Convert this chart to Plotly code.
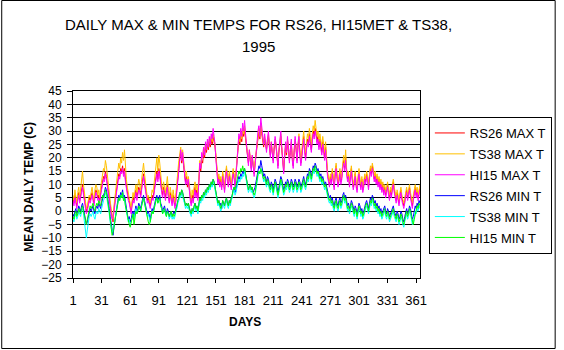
import plotly.graph_objects as go

days = list(range(1, 366))
x_tick_vals = list(range(1, 366, 30))
x_tick_text = [str(v) for v in x_tick_vals]
y_tick_vals = list(range(-25, 46, 5))

series_names = ["RS26 MAX T", "TS38 MAX T", "HI15 MAX T", "RS26 MIN T", "TS38 MIN T", "HI15 MIN T"]
series_colors = ["#FF0000", "#FFC000", "#FF00FF", "#0000FF", "#00FFFF", "#00FF00"]

rs26_max = [
    5, 3, 6, 4, 2, 5, 7, 4, 6, 9,
    10, 7, 4, 2, 0, 1, 3, 5, 4, 6,
    7, 5, 3, 6, 8, 7, 5, 6, 4, 7,
    9, 11, 13, 12, 15, 13, 10, 8, 5, 3,
    0, -2, -4, 1, 4, 7, 10, 12, 14, 13,
    16, 15, 17, 14, 16, 12, 9, 7, 5, 4,
    2, 0, 3, 5, 4, 6, 8, 5, 7, 9,
    8, 6, 9, 12, 14, 11, 8, 6, 4, 5,
    3, 2, 4, 6, 5, 8, 10, 13, 15, 12,
    16, 14, 10, 8, 6, 9, 7, 5, 8, 10,
    6, 4, 7, 5, 3, 6, 4, 2, 5, 8,
    12, 16, 20, 22, 18, 21, 17, 14, 11, 13,
    9, 11, 8, 5, 3, 6, 4, 7, 9, 6,
    8, 5, 12, 17, 15, 19, 18, 22, 20, 24,
    22, 25, 23, 26, 24, 27, 25, 28, 26, 24,
    20, 15, 11, 13, 10, 12, 9, 14, 11, 8,
    13, 16, 12, 10, 14, 11, 9, 12, 15, 13,
    10, 14, 19, 24, 27, 25, 29, 26, 30, 28,
    31, 27, 24, 21, 18, 22, 19, 16, 20, 17,
    14, 18, 21, 25, 28, 30, 27, 32, 29, 26,
    24, 27, 25, 23, 26, 28, 24, 21, 25, 22,
    19, 23, 26, 24, 20, 17, 22, 25, 28, 23,
    18, 15, 20, 24, 21, 26, 23, 19, 22, 25,
    20, 17, 22, 26, 23, 19, 24, 27, 22, 18,
    21, 25, 28, 23, 20, 24, 27, 25, 29, 26,
    23, 27, 30, 28, 31, 29, 26, 28, 24, 27,
    25, 22, 26, 23, 20, 24, 18, 14, 12, 10,
    13, 11, 15, 12, 9, 14, 17, 13, 10, 12,
    15, 11, 13, 17, 19, 16, 20, 15, 12, 14,
    10, 13, 16, 12, 9, 11, 14, 10, 8, 12,
    15, 11, 9, 12, 8, 10, 13, 11, 14, 12,
    9, 13, 16, 14, 17, 15, 12, 14, 11, 13,
    10, 12, 9, 11, 8, 10, 7, 9, 6, 8,
    10, 7, 5, 8, 6, 9, 11, 8, 6, 4,
    7, 5, 3, 6, 8, 5, 3, 2, 4, 6,
    8, 5, 7, 9, 6, 4, 2, 5, 7, 9,
    6, 8, 5, 7, 9,
]

ts38_max = [
    6, 4, 8, 5, 3, 7, 9, 5, 8, 13,
    15, 10, 6, 3, 1, 2, 4, 6, 5, 8,
    9, 6, 4, 8, 10, 9, 6, 8, 5, 9,
    12, 14, 16, 15, 19, 17, 13, 10, 6, 4,
    1, -1, -3, 2, 6, 9, 13, 15, 18, 16,
    20, 18, 22, 19, 23, 16, 12, 9, 6, 5,
    3, 1, 4, 7, 5, 8, 10, 7, 9, 12,
    10, 8, 12, 15, 18, 14, 10, 7, 5, 6,
    4, 3, 5, 8, 7, 10, 13, 16, 20, 15,
    21, 18, 13, 10, 8, 11, 9, 7, 10, 13,
    8, 5, 9, 7, 4, 8, 6, 3, 7, 10,
    15, 19, 23, 24, 20, 23, 19, 16, 13, 15,
    11, 13, 10, 7, 4, 8, 6, 9, 11, 8,
    10, 7, 14, 19, 17, 21, 20, 24, 22, 25,
    23, 26, 24, 27, 25, 28, 26, 29, 27, 25,
    21, 16, 12, 14, 11, 13, 10, 15, 12, 9,
    14, 17, 13, 11, 15, 12, 10, 13, 16, 14,
    11, 15, 20, 25, 28, 26, 30, 27, 31, 29,
    32, 28, 25, 22, 19, 23, 20, 17, 21, 18,
    15, 19, 22, 26, 29, 31, 28, 33, 30, 27,
    25, 28, 26, 24, 27, 29, 25, 22, 26, 23,
    20, 24, 27, 25, 21, 18, 23, 26, 29, 24,
    19, 16, 21, 25, 22, 27, 24, 20, 23, 26,
    21, 18, 23, 27, 24, 20, 25, 29, 23, 19,
    23, 27, 30, 25, 22, 26, 29, 27, 31, 28,
    25, 29, 32, 30, 34, 31, 28, 30, 26, 29,
    27, 24, 28, 25, 22, 26, 20, 15, 13, 11,
    14, 12, 16, 13, 10, 15, 18, 14, 11, 13,
    16, 12, 14, 18, 21, 17, 23, 16, 13, 15,
    11, 14, 17, 13, 10, 12, 15, 11, 9, 13,
    16, 12, 10, 13, 9, 11, 14, 12, 15, 13,
    10, 14, 17, 15, 18, 16, 13, 15, 12, 14,
    11, 13, 10, 12, 9, 11, 8, 10, 7, 9,
    11, 8, 6, 9, 7, 10, 12, 9, 7, 5,
    8, 6, 4, 7, 9, 6, 4, 3, 5, 7,
    9, 6, 8, 10, 7, 5, 3, 6, 8, 10,
    7, 9, 6, 8, 10,
]

hi15_max = [
    4, 2, 5, 3, 1, 4, 6, 3, 5, 8,
    9, 6, 3, 1, -1, 0, 2, 4, 3, 5,
    6, 4, 2, 5, 7, 6, 4, 5, 3, 6,
    8, 10, 12, 11, 14, 12, 9, 7, 4, 2,
    -1, -3, -2, 0, 3, 6, 9, 11, 13, 12,
    15, 14, 16, 13, 15, 11, 8, 6, 4, 3,
    1, -1, 2, 4, 3, 5, 7, 4, 6, 8,
    7, 5, 8, 11, 13, 10, 7, 5, 3, 4,
    2, 1, 3, 5, 4, 7, 9, 12, 14, 11,
    15, 13, 9, 7, 5, 8, 6, 4, 7, 9,
    5, 3, 6, 4, 2, 5, 3, 1, 4, 7,
    11, 15, 19, 23, 19, 22, 18, 13, 10, 12,
    10, 12, 7, 4, 2, 5, 3, 6, 8, 5,
    7, 4, 11, 18, 16, 22, 20, 24, 21, 26,
    23, 27, 24, 28, 25, 29, 27, 31, 28, 25,
    19, 14, 10, 12, 9, 11, 8, 13, 10, 7,
    12, 15, 11, 9, 13, 10, 8, 11, 14, 12,
    9, 13, 20, 25, 29, 27, 31, 28, 33, 30,
    34, 29, 25, 22, 17, 23, 20, 15, 21, 16,
    13, 17, 22, 27, 30, 32, 28, 35, 31, 27,
    25, 29, 26, 22, 27, 30, 25, 20, 26, 21,
    18, 24, 28, 25, 19, 16, 23, 27, 30, 24,
    17, 14, 21, 26, 22, 28, 24, 18, 23, 27,
    19, 16, 23, 28, 24, 18, 25, 28, 21, 17,
    20, 24, 27, 22, 19, 23, 26, 24, 28, 25,
    22, 26, 29, 27, 30, 28, 25, 27, 23, 26,
    24, 21, 25, 22, 19, 23, 17, 13, 11, 9,
    12, 10, 14, 11, 8, 13, 16, 12, 9, 11,
    14, 10, 12, 16, 18, 15, 19, 14, 11, 13,
    9, 12, 15, 11, 8, 10, 13, 9, 7, 11,
    14, 10, 8, 11, 7, 9, 12, 10, 13, 11,
    8, 12, 15, 13, 16, 14, 11, 13, 10, 12,
    9, 11, 8, 10, 7, 9, 6, 8, 5, 7,
    9, 6, 4, 7, 5, 8, 10, 7, 5, 3,
    6, 4, 2, 5, 7, 4, 2, 1, 3, 5,
    7, 4, 6, 8, 5, 3, 1, 4, 6, 8,
    5, 7, 4, 6, 8,
]

rs26_min = [
    -1, -2, 0, 1, -1, 0, 2, 1, 0, 2,
    3, 1, -1, -3, -5, -4, -2, 0, 1, 0,
    1, 2, 0, -1, 1, 2, 1, 3, 2, 1,
    3, 5, 6, 7, 9, 8, 6, 4, 1, -2,
    -5, -8, -9, -6, -3, 0, 2, 4, 6, 5,
    7, 6, 8, 5, 6, 3, 1, -1, -3, -2,
    -4, -3, -1, 0, -2, 1, 2, 0, 1, 3,
    2, 1, 3, 5, 6, 4, 2, 0, -1, 0,
    -2, -3, -1, 1, 0, 2, 3, 5, 6, 4,
    5, 6, 3, 2, 0, 1, 2, 0, -1, 1,
    0, -2, -1, 0, -2, -1, 0, -1, 1, 2,
    4, 5, 7, 6, 8, 7, 5, 4, 2, 3,
    2, 3, 1, 0, -1, 1, 0, 2, 3, 1,
    2, 0, 3, 5, 4, 6, 5, 7, 6, 8,
    7, 9, 8, 10, 9, 11, 10, 12, 11, 9,
    7, 5, 3, 4, 2, 3, 1, 4, 3, 2,
    4, 5, 3, 2, 4, 3, 5, 6, 8, 9,
    7, 8, 10, 12, 13, 12, 14, 13, 15, 14,
    16, 14, 12, 10, 8, 9, 10, 8, 9, 7,
    8, 9, 11, 13, 15, 17, 16, 19, 17, 15,
    13, 14, 12, 11, 13, 12, 10, 9, 11, 10,
    8, 10, 12, 11, 9, 7, 9, 11, 13, 12,
    10, 8, 9, 11, 10, 12, 11, 9, 10, 12,
    11, 9, 10, 12, 11, 9, 10, 12, 11, 9,
    10, 12, 13, 11, 10, 12, 14, 13, 16, 15,
    13, 15, 17, 16, 18, 17, 15, 16, 14, 13,
    14, 12, 13, 11, 10, 11, 9, 7, 6, 5,
    6, 4, 5, 3, 2, 4, 5, 3, 2, 4,
    5, 3, 4, 6, 7, 5, 6, 4, 2, 3,
    1, 2, 4, 3, 1, 0, 2, 1, -1, 1,
    3, 2, 0, 1, -1, 0, 2, 3, 4, 2,
    1, 3, 5, 4, 6, 5, 3, 4, 2, 3,
    1, 2, 0, 1, -1, 0, 1, 2, 0, -1,
    1, 0, -2, -1, 0, 1, 2, 0, -1, -2,
    0, -1, -3, -2, 0, -1, -3, -4, -2, 0,
    1, -1, 0, 2, 1, -1, -3, -2, 0, 2,
    1, 3, 2, 4, 3,
]

ts38_min = [
    -3, -4, -2, -1, -3, -2, 0, -1, -2, 0,
    1, -1, -5, -9, -10, -7, -4, -2, -1, -2,
    -1, 0, -2, -3, -1, 0, -1, 1, 0, -1,
    1, 3, 4, 5, 7, 6, 4, 2, -1, -4,
    -6, -8, -7, -5, -3, -1, 1, 3, 5, 4,
    6, 5, 7, 4, 5, 2, 0, -2, -4, -3,
    -5, -4, -2, -1, -3, 0, 1, -1, 0, 2,
    1, 0, 2, 4, 5, 3, 1, -1, -2, -1,
    -3, -4, -2, 0, -1, 1, 2, 4, 5, 3,
    4, 5, 2, 1, -1, 0, 1, -1, -2, 0,
    -1, -3, -2, -1, -3, -2, -3, -2, 0, 1,
    3, 4, 6, 5, 7, 6, 4, 3, 1, 2,
    1, 2, 0, -1, -2, 0, -1, 1, 2, 0,
    1, -1, 2, 4, 3, 5, 4, 6, 5, 7,
    6, 8, 7, 9, 8, 10, 9, 11, 10, 8,
    6, 4, 2, 3, 1, 0, 1, 3, 2, 1,
    3, 4, 2, 1, 3, 2, 4, 5, 7, 8,
    6, 7, 9, 11, 12, 11, 13, 12, 14, 13,
    15, 13, 11, 9, 7, 8, 9, 7, 8, 6,
    5, 6, 9, 11, 13, 15, 14, 16, 15, 13,
    11, 12, 10, 9, 11, 10, 8, 7, 9, 8,
    6, 8, 10, 9, 7, 5, 7, 9, 11, 10,
    8, 6, 7, 9, 8, 10, 9, 7, 8, 10,
    9, 7, 8, 10, 9, 7, 8, 10, 9, 7,
    8, 10, 11, 9, 8, 10, 12, 11, 14, 13,
    11, 13, 15, 14, 16, 15, 13, 14, 12, 11,
    12, 10, 11, 9, 8, 9, 7, 5, 4, 3,
    4, 2, 3, 1, 0, 2, 3, 1, 0, 2,
    3, 1, 2, 4, 5, 3, 4, 2, 0, 1,
    -1, 0, 2, 1, -1, -2, 0, -1, -3, -1,
    1, 0, -2, -1, -3, -2, 0, 1, 2, 0,
    -1, 1, 3, 2, 4, 3, 1, 2, 0, 1,
    -1, 0, -2, -1, -3, -2, -1, 0, -2, -3,
    -1, -2, -4, -3, -2, -1, 0, -2, -3, -4,
    -2, -3, -5, -4, -2, -3, -5, -6, -4, -2,
    -1, -3, -2, 0, -1, -3, -5, -4, -2, 0,
    -1, 1, 0, 2, 1,
]

hi15_min = [
    -2, -3, -1, 0, -2, -1, 1, 0, -1, 1,
    2, 0, -2, -4, -5, -3, -1, 1, 2, 1,
    2, 3, 1, 0, 2, 3, 2, 4, 3, 2,
    4, 6, 5, 6, 8, 7, 5, 3, 0, -3,
    -6, -9, -8, -6, -3, -1, 1, 3, 5, 4,
    6, 5, 7, 4, 5, 2, 0, -2, -4, -5,
    -6, -4, -2, -1, -5, -2, 0, -1, 0, 2,
    1, 0, 2, 4, 5, 3, 1, -1, -3, -4,
    -5, -4, -2, 0, -1, 1, 2, 4, 5, 3,
    4, 5, 2, 1, -1, 0, 1, -1, -2, 0,
    -1, -2, -1, 0, -2, -1, -2, -1, 1, 2,
    4, 5, 7, 6, 8, 7, 5, 4, 2, 3,
    2, 3, 1, 0, -1, 1, 0, 2, 3, 1,
    2, 0, 3, 5, 4, 6, 5, 7, 6, 8,
    7, 9, 8, 10, 9, 11, 10, 12, 11, 9,
    7, 5, 3, 4, 2, 1, 2, 4, 3, 2,
    4, 5, 3, 2, 4, 3, 5, 6, 8, 9,
    8, 10, 12, 14, 15, 14, 16, 15, 17, 15,
    16, 14, 12, 10, 8, 9, 10, 8, 9, 7,
    6, 7, 10, 12, 14, 15, 14, 16, 15, 13,
    12, 13, 11, 10, 12, 11, 9, 8, 10, 9,
    7, 9, 11, 10, 8, 6, 8, 10, 12, 11,
    9, 7, 8, 10, 9, 11, 10, 8, 9, 11,
    10, 8, 9, 11, 10, 8, 9, 11, 10, 8,
    9, 11, 12, 10, 9, 11, 13, 12, 15, 14,
    12, 14, 16, 15, 17, 16, 14, 15, 13, 12,
    13, 11, 12, 10, 9, 10, 8, 6, 5, 4,
    5, 3, 4, 2, 1, 3, 4, 2, 1, 3,
    4, 2, 3, 5, 6, 4, 5, 3, 1, 2,
    0, 1, 3, 2, 0, -1, 1, 0, -2, 0,
    2, 1, -1, 0, -2, -1, 1, 2, 3, 1,
    0, 2, 4, 3, 5, 4, 2, 3, 1, 2,
    0, 1, -1, 0, -2, -1, 0, 1, -1, -2,
    0, -1, -3, -2, -1, 0, 1, -1, -2, -3,
    -1, -2, -4, -3, -1, -2, -4, -5, -3, -1,
    0, -2, -1, 1, 0, -2, -4, -5, -3, -1,
    0, 2, 1, 3, 2,
]

all_series = [rs26_max, ts38_max, hi15_max, rs26_min, ts38_min, hi15_min]

FONT = "Arial, Liberation Sans, sans-serif"
W, H = 564, 350
L, R, T, B = 73, 426, 91, 278  # plot area in pixels

fig = go.Figure()
for i, (name, color, vals) in enumerate(zip(series_names, series_colors, all_series)):
    n = min(len(days), len(vals))
    fig.add_trace(go.Scatter(
        x=days[:n], y=vals[:n], mode="lines", name=name,
        line=dict(color=color, width=1), legendgroup=f"g{i}",
    ))

pw, ph = R - L, B - T

def px_x(p):
    return (p - L) / pw

def px_y(p):
    return (B - p) / ph

fig.update_layout(
    width=W, height=H,
    margin=dict(l=L, r=W - R, t=T, b=H - B, pad=0),
    paper_bgcolor="white", plot_bgcolor="white",
    font=dict(family=FONT, size=12, color="black"),
    showlegend=True,
    legend=dict(
        x=px_x(435), y=px_y(117), xanchor="left", yanchor="top",
        bgcolor="white", bordercolor="black", borderwidth=1,
        font=dict(family=FONT, size=13, color="black"),
        tracegroupgap=1, itemwidth=30,
    ),
    xaxis=dict(
        range=[1, 365], tickmode="array", tickvals=x_tick_vals, ticktext=x_tick_text,
        showgrid=False, zeroline=False, showline=True, linecolor="black", linewidth=1,
        mirror=True, ticks="outside", ticklen=4, tickcolor="black",
        tickfont=dict(family=FONT, size=13, color="black"), ticklabelstandoff=6,
    ),
    yaxis=dict(
        range=[-25, 45], tickmode="array", tickvals=y_tick_vals,
        showgrid=True, gridcolor="black", gridwidth=1, zeroline=False,
        showline=True, linecolor="black", linewidth=1, mirror=True,
        ticks="outside", ticklen=5, tickcolor="black",
        tickfont=dict(family=FONT, size=12, color="black"), ticklabelstandoff=3,
    ),
    annotations=[
        dict(text="DAILY MAX & MIN TEMPS FOR RS26, HI15MET & TS38,", xref="paper", yref="paper",
             x=px_x(262), y=px_y(25), xanchor="center", yanchor="middle", showarrow=False,
             font=dict(family=FONT, size=15, color="black")),
        dict(text="1995", xref="paper", yref="paper",
             x=px_x(262), y=px_y(47), xanchor="center", yanchor="middle", showarrow=False,
             font=dict(family=FONT, size=15, color="black")),
        dict(text="<b>MEAN DAILY TEMP (C)</b>", xref="paper", yref="paper",
             x=px_x(28), y=px_y(187), xanchor="center", yanchor="middle", showarrow=False,
             textangle=-90, font=dict(family=FONT, size=12, color="black")),
        dict(text="<b>DAYS</b>", xref="paper", yref="paper",
             x=px_x(248), y=px_y(322), xanchor="center", yanchor="middle", showarrow=False,
             font=dict(family=FONT, size=12, color="black")),
    ],
    shapes=[
        dict(type="rect", xref="paper", yref="paper",
             x0=px_x(0.5), x1=px_x(W - 0.5), y0=px_y(H - 1.5), y1=px_y(0.5),
             line=dict(color="black", width=1), fillcolor="rgba(0,0,0,0)", layer="above"),
    ],
)

fig.write_html("out.html")
